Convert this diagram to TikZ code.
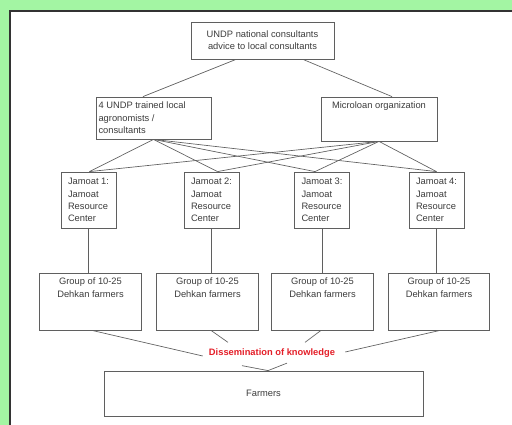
\documentclass[tikz,border=0pt]{standalone}
\usepackage{fontspec}
\setmainfont{Liberation Sans}
\usetikzlibrary{calc}
\definecolor{bggreen}{RGB}{163,245,163}
\definecolor{linegray}{RGB}{95,95,95}
\definecolor{txtgray}{RGB}{60,60,60}
\definecolor{dissred}{RGB}{228,30,40}

\begin{document}
\begin{tikzpicture}[x=0.75pt, y=-0.75pt, font=\fontsize{7}{9.2}\selectfont, every node/.style={align=center, text=txtgray}]
\tikzset{
  box/.style={draw=linegray, line width=0.6pt, inner sep=0pt},
  toplabel/.style={anchor=north, inner xsep=2pt, inner ysep=4pt},
  link/.style={draw=linegray, line width=0.5pt}
}
\useasboundingbox (0,0) rectangle (512,425);
\fill[bggreen] (0,0) rectangle (512,425);
\fill[white] (10.5,11) rectangle (512,425);
\draw[black!80, line width=1.5pt] (10.5,425) -- (10.5,11) -- (512,11);

\node[box, minimum width=107.25pt, minimum height=27.75pt] (top) at (262.5,40.5) {UNDP national consultants\\advice to local consultants};
\node[box, minimum width=86.25pt, minimum height=31.5pt,
  label={[toplabel, anchor=north west, align=left]north west:{4 UNDP trained local\\agronomists /\\consultants}}] (agro) at (153.5,118) {};
\node[box, minimum width=87pt, minimum height=33pt,
  label={[toplabel]north:{Microloan organization}}] (mloan) at (379,119) {};

\foreach \i/\x in {1/88.5,2/211.5,3/322,4/436.5}
  \node[box, minimum width=41.25pt, minimum height=42pt, align=left] (j\i) at (\x,200) {Jamoat \i:\\Jamoat\\Resource\\Center};
\foreach \i/\x in {1/90.5,2/207.5,3/322.5,4/439}
  \node[box, minimum width=76pt, minimum height=42.75pt,
    label={[toplabel]north:{Group of 10-25\\Dehkan farmers}}] (g\i) at (\x,301.5) {};

\node[font=\fontsize{7}{9}\selectfont\bfseries, text=dissred, inner sep=3pt] (dissem) at (272,353) {Dissemination of knowledge};
\node[box, minimum width=239.25pt, minimum height=33.75pt] (farm) at (263.5,393.5) {Farmers};

\draw[link] ($(top.south)+(-26.5,0)$) -- ($(agro.north)+(-10.5,0)$);
\draw[link] ($(top.south)+(40.5,0)$) -- ($(mloan.north)+(13,0)$);
\foreach \i/\dx in {1/1,2/6,3/-7,4/0} {
  \draw[link] (agro.south) -- ($(j\i.north)+(\dx,0)$);
  \draw[link] (mloan.south) -- ($(j\i.north)+(\dx,0)$);
}
\foreach \i in {1,...,4}
  \draw[link] (j\i.south) -- (j\i.south |- g\i.north);

\draw[link] ($(g1.south)+(1.5,0)$) -- ($(dissem.west)+(-2,3)$);
\draw[link] ($(g2.south)+(3.5,0)$) -- ($(dissem.north)+(-44,-2)$);
\draw[link] ($(g3.south)+(-1.5,0)$) -- ($(dissem.north)+(33,-2)$);
\draw[link] ($(g4.south)+(1,0)$) -- ($(dissem.east)+(6,-1)$);
\draw[link] ($(dissem.south)+(-30,4)$) -- ($(farm.north)+(4.5,0)$);
\draw[link] ($(dissem.south)+(15,1.5)$) -- ($(farm.north)+(4.5,0)$);
\end{tikzpicture}
\end{document}
